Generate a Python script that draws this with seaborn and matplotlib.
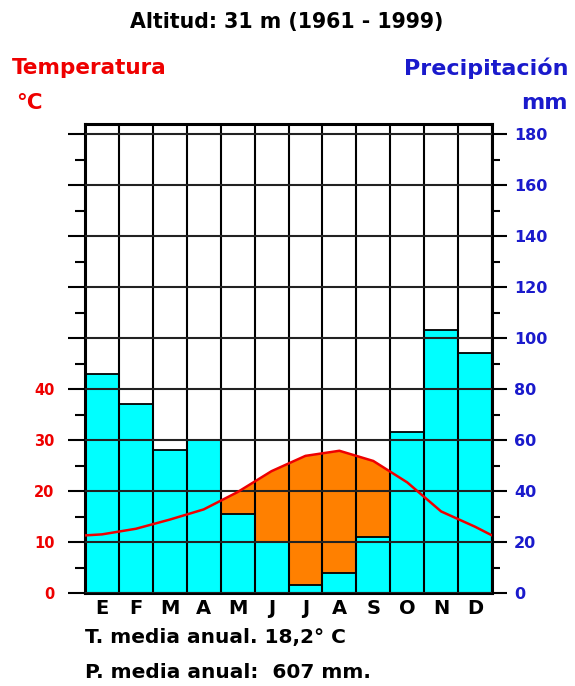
import matplotlib
matplotlib.use("Agg")
import matplotlib.pyplot as plt
from matplotlib.ticker import MultipleLocator
import seaborn as sns
import pandas as pd
import numpy as np

# Datos del climograma
meses = ["Ene", "Feb", "Mar", "Abr", "May", "Jun", "Jul", "Ago", "Sep", "Oct", "Nov", "Dic"]
letras = ["E", "F", "M", "A", "M", "J", "J", "A", "S", "O", "N", "D"]
precipitacion = [86, 74, 56, 60, 31, 20, 3, 8, 22, 63, 103, 94]
temperatura = [11.5, 12.6, 14.4, 16.4, 19.8, 23.9, 26.9, 27.9, 25.9, 21.7, 16.0, 13.0]
temp_borde = 11.3  # valor del trazo en los bordes (paso dic -> ene)
titulo = "Altitud: 31 m (1961 - 1999)"
t_media = "T. media anual. 18,2\u00b0 C"
p_media = "P. media anual:  607 mm."

ROJO = "#ee0000"
AZUL = "#1a1acc"
CIAN = "#00ffff"
NARANJA = "#ff8000"

sns.set_style("white")
plt.rcParams['font.family'] = ['DejaVu Sans']
plt.rcParams['font.weight'] = 'bold'
plt.rcParams['text.color'] = 'black'
plt.rcParams['xtick.color'] = 'black'
plt.rcParams['ytick.color'] = 'black'

fig = plt.figure(figsize=(5.75, 6.86), dpi=100)
ax = fig.add_axes([85 / 575, 93 / 686, 407 / 575, 469 / 686])
axT = ax.twinx()  # temperatura (escala 1 C = 2 mm)

pos = np.arange(12)
df = pd.DataFrame({"pos": pos, "mes": meses, "P": precipitacion, "T": temperatura})

# periodo seco: entre la barra y la curva de 2*T
xs = np.concatenate([[-0.5], pos, [11.5]])
ts = np.concatenate([[temp_borde], temperatura, [temp_borde]])
xf = np.linspace(-0.5, 11.5, 2401)
tf = np.interp(xf, xs, ts) * 2
idx = np.clip(np.floor(xf + 0.5).astype(int), 0, 11)
pf = np.array(precipitacion)[idx]
ax.fill_between(xf, pf, tf, where=tf > pf, color=NARANJA, linewidth=0, zorder=1)

sns.barplot(data=df, x="pos", y="P", native_scale=True, width=1, color=CIAN,
            saturation=1, edgecolor="black", linewidth=1.3, ax=ax)

ax.set_xlim(-0.5, 11.5)
ax.set_ylim(0, 184)
ax.set_xlabel("")
ax.set_ylabel("")

# eje x: letras de los meses, rejilla en los limites de mes
ax.set_xticks(pos)
ax.set_xticklabels(letras, fontsize=14, fontweight="bold", color="black")
ax.tick_params(axis="x", which="major", length=0, pad=4)
ax.set_xticks(np.arange(-0.5, 12, 1), minor=True)
ax.tick_params(axis="x", which="minor", length=5, width=1.2, direction="out")
ax.grid(True, which="minor", axis="x", color="black", lw=1.5)

# eje derecho: precipitacion
ax.yaxis.tick_right()
ax.set_yticks(range(0, 181, 20))
ax.yaxis.set_minor_locator(MultipleLocator(10))
ax.tick_params(axis="y", which="major", length=11, width=1.5, pad=5,
               labelsize=11.5, labelcolor=AZUL)
ax.tick_params(axis="y", which="minor", length=6, width=1.5)
for lab in ax.get_yticklabels():
    lab.set_fontweight("bold")
ax.grid(True, which="major", axis="y", color="#222222", lw=1.5)
ax.set_axisbelow(False)

for s in ax.spines.values():
    s.set_visible(True)
    s.set_color("black")
    s.set_linewidth(2.2)

# eje izquierdo: temperatura
axT.yaxis.tick_left()
axT.set_ylim(0, 92)
axT.set_yticks(range(0, 91, 10),
               labels=["0", "10", "20", "30", "40", "", "", "", "", ""])
axT.yaxis.set_minor_locator(MultipleLocator(5))
axT.tick_params(axis="y", which="major", length=12, width=1.5, pad=10,
                labelsize=10.5, labelcolor=ROJO)
axT.tick_params(axis="y", which="minor", length=7, width=1.5)
for lab in axT.get_yticklabels():
    lab.set_fontweight("bold")
axT.grid(False)
for s in axT.spines.values():
    s.set_visible(False)

sns.lineplot(x=xs, y=ts, ax=axT, color=ROJO, lw=1.8, zorder=5)
axT.set_ylabel("")

# textos
fig.text(287 / 575, 1 - 22 / 686, titulo, ha="center", va="center", fontsize=14.8,
         fontweight="bold", color="black")
fig.text(12 / 575, 1 - 68 / 686, "Temperatura", ha="left", va="center", fontsize=15.5,
         fontweight="bold", color=ROJO)
fig.text(16 / 575, 1 - 103 / 686, "\u00b0C", ha="left", va="center", fontsize=15.5,
         fontweight="bold", color=ROJO)
fig.text(568 / 575, 1 - 68 / 686, "Precipitación", ha="right", va="center", fontsize=16,
         fontweight="bold", color=AZUL)
fig.text(568 / 575, 1 - 103 / 686, "mm", ha="right", va="center", fontsize=16,
         fontweight="bold", color=AZUL)
fig.text(85 / 575, 1 - 637 / 686, t_media, ha="left", va="center", fontsize=14.5,
         fontweight="bold", color="black")
fig.text(85 / 575, 1 - 672 / 686, p_media, ha="left", va="center", fontsize=14.5,
         fontweight="bold", color="black")

fig.savefig("out.png", dpi=100)
